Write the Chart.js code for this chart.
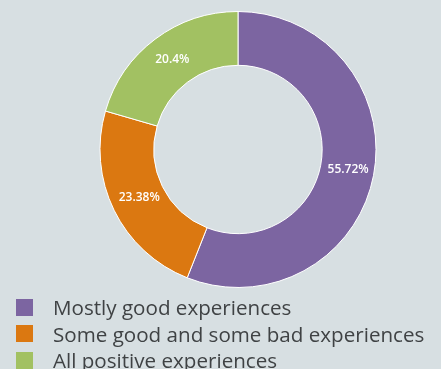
<!DOCTYPE html>
<html>
<head>
<meta charset="utf-8">
<script src="https://cdn.jsdelivr.net/npm/chart.js@4"></script>
<style>
  html, body { margin: 0; padding: 0; background: #d7dfe2; }
  #wrap { width: 441px; height: 369px; position: relative; overflow: hidden; }
  #chartBox { width: 441px; height: 299px; position: relative; }
  #legend { position: absolute; left: 16px; top: 294px; font-family: "Open Sans", sans-serif; font-size: 20.6px; color: #3f4244; }
  .row { display: flex; align-items: center; height: 26.5px; white-space: nowrap; }
  .sw { width: 17px; height: 17px; margin-right: 20px; flex: none; }
</style>
</head>
<body>
<div id="wrap">
  <div id="chartBox"><canvas id="c"></canvas></div>
  <div id="legend"></div>
</div>
<script>
const categories = [
  "Mostly good experiences",
  "Some good and some bad experiences",
  "All positive experiences"
];
const shares = [55.72, 23.38, 20.4];
const sliceColors = ["#7c65a1", "#db7811", "#a2c162"];

// white percentage text in the middle of each ring segment
const sliceLabels = {
  id: "sliceLabels",
  afterDatasetsDraw(chart) {
    const ctx = chart.ctx;
    const meta = chart.getDatasetMeta(0);
    ctx.save();
    ctx.fillStyle = "#ffffff";
    ctx.font = "600 12px 'Open Sans', sans-serif";
    ctx.textAlign = "center";
    ctx.textBaseline = "middle";
    meta.data.forEach((arc, i) => {
      const p = arc.tooltipPosition();
      ctx.fillText(shares[i] + "%", p.x + 1, p.y - 1);
    });
    ctx.restore();
  }
};

new Chart(document.getElementById("c"), {
  type: "doughnut",
  data: {
    labels: categories,
    datasets: [{
      data: shares,
      backgroundColor: sliceColors,
      borderColor: "#ffffff",
      borderWidth: 1
    }]
  },
  options: {
    responsive: true,
    maintainAspectRatio: false,
    animation: false,
    cutout: "61%",
    layout: { padding: { top: 11, bottom: 11, left: 35, right: 0 } },
    plugins: {
      legend: { display: false },
      tooltip: { enabled: false }
    }
  },
  plugins: [sliceLabels]
});

// legend rows under the ring
const legend = document.getElementById("legend");
categories.forEach((name, i) => {
  const row = document.createElement("div");
  row.className = "row";
  const sw = document.createElement("span");
  sw.className = "sw";
  sw.style.background = sliceColors[i];
  const tx = document.createElement("span");
  tx.textContent = name;
  row.appendChild(sw);
  row.appendChild(tx);
  legend.appendChild(row);
});
</script>
</body>
</html>
